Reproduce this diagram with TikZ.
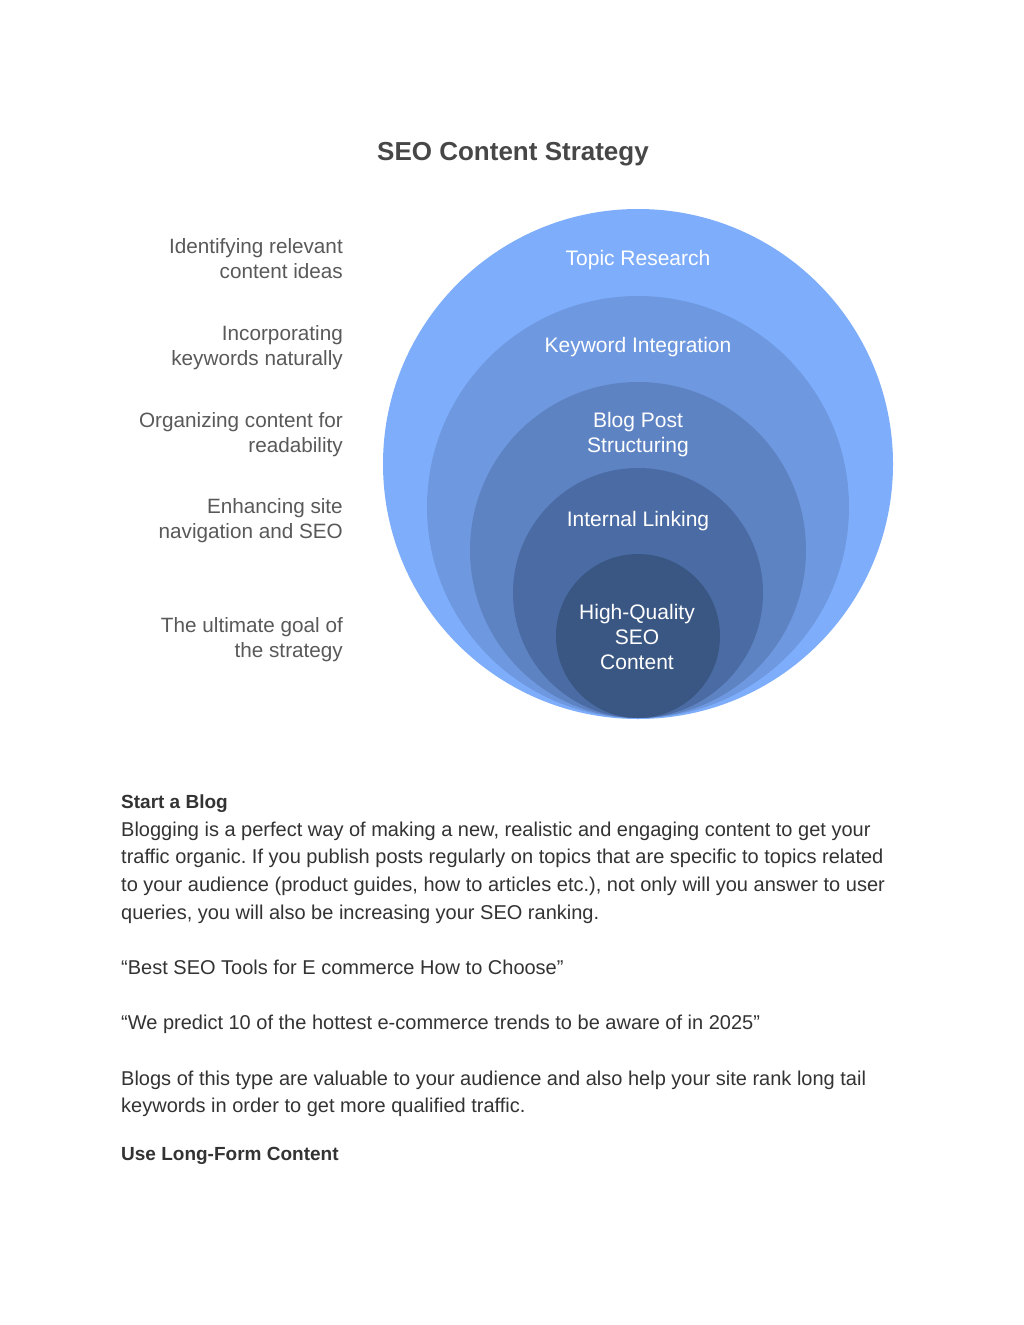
\documentclass[tikz,border=0pt]{standalone}
\usepackage{fontspec}
\setmainfont{Liberation Sans}
\newfontfamily\bodyfont{Liberation Sans}
\frenchspacing
\definecolor{cA}{HTML}{7EAEFB}
\definecolor{cB}{HTML}{6E98DF}
\definecolor{cC}{HTML}{5E83C3}
\definecolor{cD}{HTML}{4A6BA3}
\definecolor{cE}{HTML}{3A5784}
\definecolor{lbl}{HTML}{595959}
\definecolor{ttl}{HTML}{474747}
\definecolor{bodyc}{HTML}{333333}
\begin{document}
\begin{tikzpicture}[x=1pt,y=-1pt,
  ring/.style={circle,inner sep=0pt,minimum size=#1},
  intext/.style={text=white,font=\fontsize{21}{25}\selectfont,align=center},
  side/.style={text=lbl,font=\fontsize{20.7}{25}\selectfont,align=right,anchor=east,inner sep=0pt},
  bodyline/.style={text=bodyc,font=\bodyfont\frenchspacing\fontsize{20}{27}\selectfont,anchor=base west,inner sep=0pt},
  bodyhead/.style={text=bodyc,font=\bodyfont\bfseries\fontsize{19}{27}\selectfont,anchor=base west,inner sep=0pt}]
\useasboundingbox[fill=white] (0,0) rectangle (1024,1325);
\node[text=ttl,font=\bfseries\fontsize{26}{30}\selectfont] (title) at (513,154) {SEO Content Strategy};
% circles
\node[ring=510pt,fill=cA] (c1) at (638,464) {};
\node[ring=422pt,fill=cB] (c2) at (638,507) {};
\node[ring=336pt,fill=cC] (c3) at (638,550) {};
\node[ring=250pt,fill=cD] (c4) at (638,593) {};
\node[ring=164pt,fill=cE] (c5) at (638,636) {};
\node[intext] (t1) at (638,260) {Topic Research};
\node[intext] (t2) at (638,347) {Keyword Integration};
\node[intext] (t3) at (638,435) {Blog Post\\Structuring};
\node[intext] (t4) at (638,521) {Internal Linking};
\node[intext] (t5) at (637,637) {High-Quality\\SEO\\Content};
% side labels
\node[side] (s1) at (343,259) {Identifying relevant\\content ideas};
\node[side] (s2) at (343,348) {Incorporating\\keywords naturally};
\node[side] (s3) at (343,435) {Organizing content for\\readability};
\node[side] (s4) at (343,521) {Enhancing site\\navigation and SEO};
\node[side] (s5) at (343,640) {The ultimate goal of\\the strategy};
% body text
\node[bodyhead] (h1) at (121,808) {Start a Blog};
\node[bodyline] (b1) at (121,836) {Blogging is a perfect way of making a new, realistic and engaging content to get your};
\node[bodyline] (b2) at (121,863) {traffic organic. If you publish posts regularly on topics that are specific to topics related};
\node[bodyline] (b3) at (121,891) {to your audience (product guides, how to articles etc.), not only will you answer to user};
\node[bodyline] (b4) at (121,919) {queries, you will also be increasing your SEO ranking.};
\node[bodyline] (q1) at (121,974) {“Best SEO Tools for E commerce How to Choose”};
\node[bodyline] (q2) at (121,1029) {“We predict 10 of the hottest e-commerce trends to be aware of in 2025”};
\node[bodyline] (b5) at (121,1085) {Blogs of this type are valuable to your audience and also help your site rank long tail};
\node[bodyline] (b6) at (121,1112) {keywords in order to get more qualified traffic.};
\node[bodyhead] (h2) at (121,1160) {Use Long-Form Content};
\end{tikzpicture}
\end{document}
